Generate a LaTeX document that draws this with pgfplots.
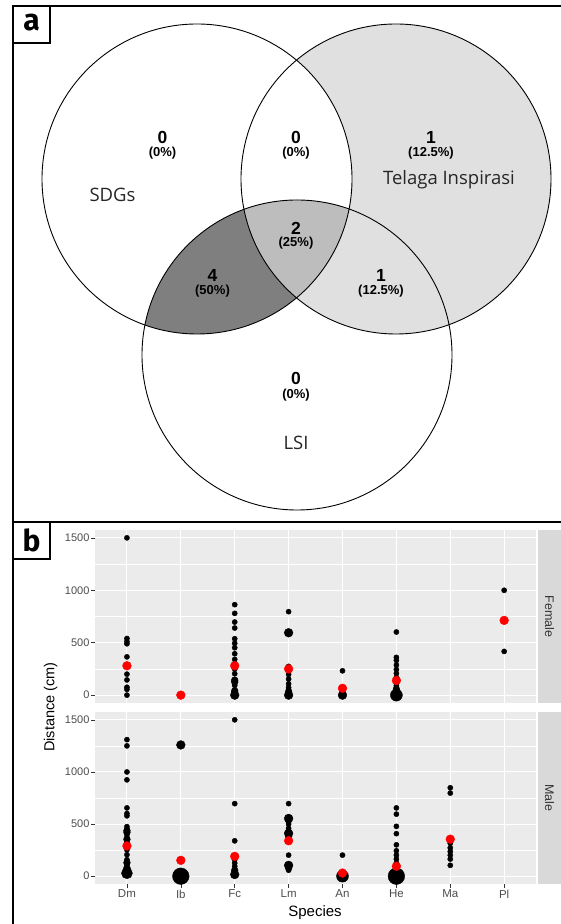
\documentclass[border=0pt]{standalone}
\usepackage{pgfplots}
\pgfplotsset{compat=1.18}
\usepackage{pgfplotstable}
\usepackage{fontspec}
\setmainfont{Liberation Sans}
\newfontfamily\setfont{Open Sans}
\newfontfamily\lblfont{Fira Sans}
\definecolor{panelbg}{HTML}{EBEBEB}
\definecolor{stripbg}{HTML}{D9D9D9}
\definecolor{ticklab}{HTML}{4D4D4D}
\definecolor{tickcol}{HTML}{333333}
\definecolor{vlight}{HTML}{E0E0E0}
\definecolor{vmid}{HTML}{BDBDBD}
\definecolor{vdark}{HTML}{7F7F7F}
\definecolor{ggred}{HTML}{FF0000}

% Female, black points: x = species index (Dm Ib Fc Lm An He Ma Pl), y = distance, r = mark radius (pt)
\pgfplotstableread{
x y r
1 1500 2.6
1 540 2.6
1 510 2.6
1 490 2.6
1 365 2.6
1 200 2.6
1 145 2.6
1 75 2.6
1 55 2.6
1 0 2.6
2 0 2.6
3 863 2.6
3 780 2.6
3 697 2.6
3 640 2.6
3 538 2.6
3 494 2.6
3 452 2.6
3 395 2.6
3 341 2.6
3 300 2.6
3 248 2.6
3 204 2.6
3 143 3.4
3 125 3.4
3 92 2.6
3 41 3.4
3 19 3.4
3 0 4.4
4 796 2.6
4 595 4.4
4 274 2.6
4 197 2.6
4 153 2.6
4 108 2.6
4 73 2.6
4 54 2.6
4 32 3.4
4 0 4.4
5 232 2.6
5 20 3.4
5 0 4.4
6 602 2.6
6 360 2.6
6 331 2.6
6 287 2.6
6 245 2.6
6 207 2.6
6 169 2.6
6 137 2.6
6 92 2.6
6 57 3.4
6 35 3.4
6 19 3.4
6 0 6.0
8 1000 2.6
8 417 2.6
}\femblack

\pgfplotstableread{
x y
1 280
2 0
3 280
4 250
5 65
6 140
8 713
}\femred

% Male, black points
\pgfplotstableread{
x y r
1 1310 2.6
1 1250 2.6
1 1000 2.6
1 924 2.6
1 655 2.6
1 601 2.6
1 579 2.6
1 475 2.6
1 450 2.6
1 437 3.4
1 421 3.4
1 399 2.6
1 370 2.6
1 354 3.4
1 323 2.6
1 253 2.6
1 206 2.6
1 158 2.6
1 130 3.4
1 111 2.6
1 79 3.4
1 47 4.4
1 28 5.5
2 1259 4.4
2 0 8.3
3 1500 2.6
3 696 2.6
3 339 2.6
3 158 2.6
3 126 2.6
3 95 2.6
3 57 3.4
3 16 4.4
4 696 2.6
4 554 4.4
4 538 3.4
4 500 2.6
4 459 2.6
4 411 4.4
4 380 3.4
4 202 2.6
4 104 4.4
4 79 3.4
4 57 2.6
5 202 2.6
5 0 6.0
6 655 2.6
6 595 2.6
6 478 2.6
6 408 2.6
6 301 2.6
6 244 2.6
6 202 2.6
6 164 2.6
6 126 2.6
6 63 3.4
6 30 4.4
6 0 8.3
7 848 2.6
7 797 2.6
7 316 2.6
7 272 2.6
7 237 2.6
7 202 2.6
7 164 2.6
7 104 2.6
}\maleblack

\pgfplotstableread{
x y
1 290
2 152
3 190
4 340
5 30
6 95
7 355
}\malered

\pgfplotsset{
  facet/.style={
    scale only axis, width=441.9pt,
    xmin=0.4, xmax=8.6, ymin=-75, ymax=1575,
    axis background/.style={fill=panelbg},
    axis line style={draw=none},
    xtick={1,2,3,4,5,6,7,8},
    ytick={0,500,1000,1500}, yticklabels={0,500,1000,1500},
    minor ytick={250,750,1250},
    xmajorgrids, ymajorgrids, yminorgrids,
    major grid style={white, line width=1.1pt},
    minor grid style={white, line width=0.55pt},
    tick align=outside, major tick length=3.5pt, minor tick length=0pt,
    tick style={tickcol, line width=0.6pt},
    xtick pos=bottom, ytick pos=left,
    yticklabel style={font=\fontsize{11}{12}\selectfont, text=ticklab, inner sep=1.5pt},
    xticklabel style={font=\fontsize{11.5}{12}\selectfont, text=ticklab, inner sep=2pt},
  },
  blackpts/.style={scatter, only marks, mark=*,
    scatter/use mapped color={draw=black, fill=black},
    visualization depends on={\thisrow{r} \as \rad},
    scatter/@pre marker code/.append style={/tikz/mark size=\rad pt}},
  redpts/.style={only marks, mark=*, mark size=4.4pt, draw=ggred, fill=ggred},
}

\begin{document}
\begin{tikzpicture}
\useasboundingbox (0pt,0pt) rectangle (561pt,924pt);
\fill[white] (0pt,0pt) rectangle (561pt,924pt);

% ---------- Panel a: Venn diagram ----------
\fill[vlight] (396pt,745pt) circle (155pt);
\begin{scope}
  \clip (197pt,745pt) circle (155pt);
  \fill[white] (396pt,745pt) circle (155pt);
  \fill[vdark] (297pt,569pt) circle (155pt);
  \clip (396pt,745pt) circle (155pt);
  \fill[vmid] (297pt,569pt) circle (155pt);
\end{scope}
\draw[line width=0.9pt] (197pt,745pt) circle (155pt);
\draw[line width=0.9pt] (396pt,745pt) circle (155pt);
\draw[line width=0.9pt] (297pt,569pt) circle (155pt);

\tikzset{cnt/.style={font=\fontsize{17.5}{18}\selectfont\bfseries, inner sep=0pt},
         pct/.style={font=\fontsize{13}{14}\selectfont\bfseries, inner sep=0pt},
         setn/.style={font=\setfont\fontsize{18.5}{20}\selectfont, inner sep=0pt, text=black!85}}
\node[cnt] at (162.5pt,787pt) {0};
\node[pct] at (162.5pt,771pt) {(0\%)};
\node[cnt] at (296pt,787pt) {0};
\node[pct] at (296pt,771pt) {(0\%)};
\node[cnt] at (431pt,787pt) {1};
\node[pct] at (431pt,771pt) {(12.5\%)};
\node[cnt] at (296pt,696pt) {2};
\node[pct] at (296pt,681pt) {(25\%)};
\node[cnt] at (212.5pt,649pt) {4};
\node[pct] at (212.5pt,633pt) {(50\%)};
\node[cnt] at (381pt,649pt) {1};
\node[pct] at (381pt,633pt) {(12.5\%)};
\node[cnt] at (296pt,546pt) {0};
\node[pct] at (296pt,529pt) {(0\%)};
\node[setn] at (449pt,744pt) {Telaga Inspirasi};
\node[setn] at (112.5pt,729pt) {SDGs};
\node[setn] at (296pt,481pt) {LSI};

% ---------- Panel b: facets ----------
\begin{axis}[facet, at={(94.6pt,221pt)}, anchor=south west, height=173pt,
  xticklabels={}, xtick style={draw=none}]
  \addplot[blackpts] table[x=x, y=y, meta=r] {\femblack};
  \addplot[redpts] table[x=x, y=y] {\femred};
\end{axis}
\begin{axis}[facet, at={(94.6pt,40pt)}, anchor=south west, height=172pt,
  xticklabels={Dm,Ib,Fc,Lm,An,He,Ma,Pl}]
  \addplot[blackpts] table[x=x, y=y, meta=r] {\maleblack};
  \addplot[redpts] table[x=x, y=y] {\malered};
\end{axis}

% strips
\fill[stripbg] (537.5pt,221pt) rectangle (561pt,394pt);
\fill[stripbg] (537.5pt,40pt) rectangle (561pt,212pt);
\node[rotate=-90, text=tickcol, font=\fontsize{12.5}{13}\selectfont] at (549.5pt,307.5pt) {Female};
\node[rotate=-90, text=tickcol, font=\fontsize{12.5}{13}\selectfont] at (549.5pt,126pt) {Male};

% axis titles
\node[rotate=90, font=\fontsize{14.5}{15}\selectfont] at (50.7pt,217pt) {Distance (cm)};
\node[font=\fontsize{15}{15}\selectfont] at (315pt,11pt) {Species};

% ---------- frames ----------
\draw[line width=1.6pt] (13pt,0pt) -- (13pt,918pt) -- (561pt,918pt);
\draw[line width=2.2pt] (13pt,402pt) -- (561pt,402pt);
\draw[line width=1.3pt, fill=white] (13pt,918pt) rectangle (50pt,881pt);
\node[font=\lblfont\fontsize{30}{30}\selectfont\bfseries] at (31.5pt,901pt) {a};
\draw[line width=1.3pt, fill=white] (13pt,402pt) rectangle (50pt,365pt);
\node[font=\lblfont\fontsize{30}{30}\selectfont\bfseries] at (31.5pt,384pt) {b};
\end{tikzpicture}
\end{document}
